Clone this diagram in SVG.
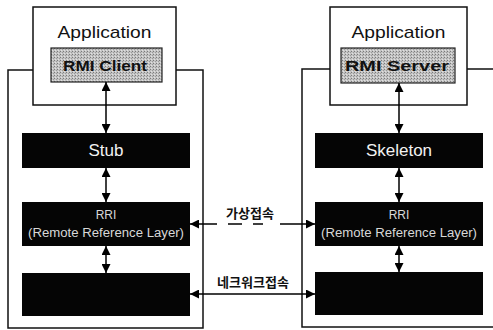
<svg xmlns="http://www.w3.org/2000/svg" width="493" height="330" viewBox="0 0 493 330">
<defs>
<marker id="ah" viewBox="0 0 10 10" refX="10" refY="5" markerWidth="9" markerHeight="9" markerUnits="userSpaceOnUse" orient="auto-start-reverse">
<path d="M0,0 L10,5 L0,10 z" fill="#000"/>
</marker>
<pattern id="dots" width="3" height="3" patternUnits="userSpaceOnUse">
<rect width="3" height="3" fill="#c4c4c4"/>
<rect x="0" y="0" width="1" height="1" fill="#7a7a7a"/>
<rect x="2" y="1" width="1" height="1" fill="#9a9a9a"/>
<rect x="1" y="2" width="1" height="1" fill="#e0e0e0"/>
</pattern>
</defs>
<style>
.frame{fill:none;stroke:#111;stroke-width:1.5}
.app{fill:#fff;stroke:#111;stroke-width:1.5}
.gray{fill:url(#dots);stroke:#222;stroke-width:1.2}
.blk{fill:#050505}
.t{font-family:"Liberation Sans",Arial,sans-serif;text-anchor:middle}
.appt{font-size:17px;fill:#111}
.rmi{font-size:15px;font-weight:bold;fill:#111}
.wt{fill:#f2f2f2}
.sm{fill:#d8d8d8}
.kr{font-family:"Noto Sans CJK KR",sans-serif;font-weight:bold;font-size:13px;fill:#111;text-anchor:middle}
.ar{stroke:#000;stroke-width:1.5;fill:none;marker-start:url(#ah);marker-end:url(#ah)}
</style>
<rect width="493" height="330" fill="#fff"/>
<g id="frame-left"><rect class="frame" x="8" y="70" width="195" height="258"/></g>
<g id="frame-right"><rect class="frame" x="302" y="69" width="200" height="258"/></g>
<g id="app-left">
<rect class="app" x="33" y="7" width="143" height="98"/>
<text class="t appt" x="104.5" y="38" textLength="94" lengthAdjust="spacingAndGlyphs">Application</text>
<rect class="gray" x="51" y="48" width="111" height="34"/>
<text class="t rmi" x="105" y="71" textLength="84" lengthAdjust="spacingAndGlyphs">RMI Client</text>
</g>
<g id="app-right">
<rect class="app" x="330" y="7" width="137" height="98"/>
<text class="t appt" x="398.5" y="38" textLength="94" lengthAdjust="spacingAndGlyphs">Application</text>
<rect class="gray" x="341" y="48" width="114" height="35"/>
<text class="t rmi" x="397" y="71" textLength="104" lengthAdjust="spacingAndGlyphs">RMI Server</text>
</g>
<g id="stub">
<rect class="blk" x="22" y="133" width="168" height="35"/>
<text class="t wt" x="106" y="156" font-size="17">Stub</text>
</g>
<g id="skeleton">
<rect class="blk" x="315" y="133" width="168" height="35"/>
<text class="t wt" x="399" y="156" font-size="17">Skeleton</text>
</g>
<g id="rrl-left">
<rect class="blk" x="22" y="202" width="168" height="44"/>
<text class="t sm" x="106" y="219" font-size="12">RRI</text>
<text class="t sm" x="106" y="237" font-size="12" textLength="156" lengthAdjust="spacingAndGlyphs">(Remote Reference Layer)</text>
</g>
<g id="rrl-right">
<rect class="blk" x="315" y="202" width="168" height="44"/>
<text class="t sm" x="399" y="219" font-size="12">RRI</text>
<text class="t sm" x="399" y="237" font-size="12" textLength="156" lengthAdjust="spacingAndGlyphs">(Remote Reference Layer)</text>
</g>
<g id="net-left"><rect class="blk" x="22" y="273" width="168" height="43"/></g>
<g id="net-right"><rect class="blk" x="315" y="272" width="168" height="43"/></g>
<g id="connectors">
<line class="ar" x1="106" y1="82" x2="106" y2="133"/>
<line class="ar" x1="106" y1="168" x2="106" y2="202"/>
<line class="ar" x1="106" y1="246" x2="106" y2="273"/>
<line class="ar" x1="399" y1="83" x2="399" y2="133"/>
<line class="ar" x1="399" y1="168" x2="399" y2="202"/>
<line class="ar" x1="399" y1="246" x2="399" y2="272"/>
<line class="ar" x1="190" y1="224" x2="315" y2="224" stroke-dasharray="27 11 14 11 10 17 40"/>
<line class="ar" x1="190" y1="294" x2="315" y2="294"/>
<text class="kr" x="250" y="218">가상접속</text>
<text class="kr" x="253" y="287">네크워크접속</text>
</g>
</svg>
